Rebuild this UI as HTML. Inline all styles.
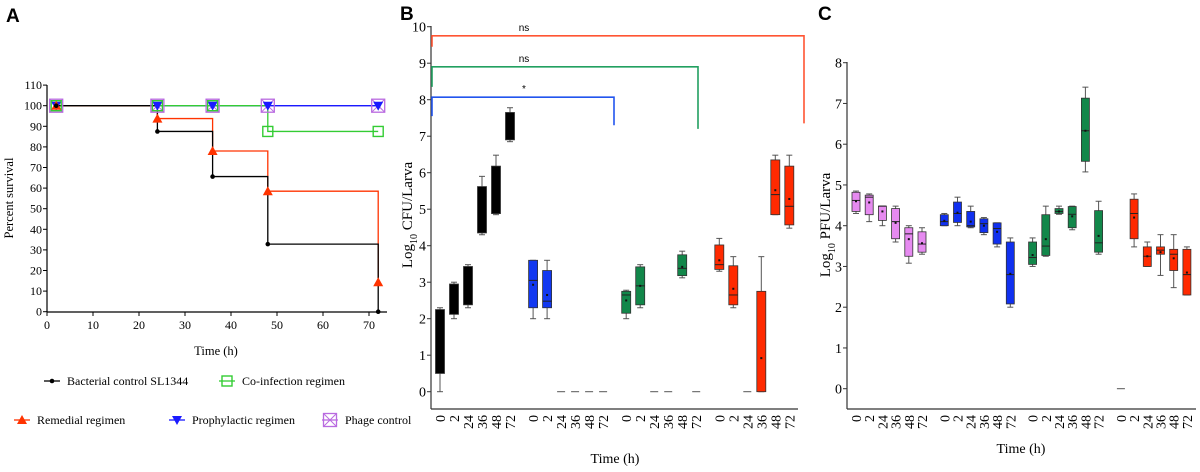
<!DOCTYPE html>
<html><head><meta charset="utf-8"><style>
body{margin:0;background:#fff;}
svg{display:block;font-family:"Liberation Serif",serif;}
</style></head><body>
<svg id="fig" width="1200" height="472" viewBox="0 0 1200 472" xmlns="http://www.w3.org/2000/svg">
<g font-family="Liberation Sans, sans-serif" font-weight="bold" font-size="19">
<text x="6" y="22">A</text>
<text x="400" y="20">B</text>
<text x="818" y="20">C</text>
</g>
<g id="pa"></g>
<g id="pb"></g>
<g id="pc"></g>
</svg>
<script>
const NS='http://www.w3.org/2000/svg';
function mk(p,t,a,txt){const e=document.createElementNS(NS,t);for(const k in a)e.setAttribute(k,a[k]);if(txt!==undefined)e.textContent=txt;p.appendChild(e);return e;}

// ===== Panel A data =====
const survTimes=[2,24,36,48,72];
const survBacterial=[100,87.5,65.6,32.8,0];
const survRemedial=[100,93.75,78,58.5,14.3];
const survCoinf=[100,100,100,87.5,87.5];
const survProph=[100,100,100,100,100];
const survPhage=[100,100,100,100,100];
const aXTicks=[0,10,20,30,40,50,60,70];
const aYTicks=[0,10,20,30,40,50,60,70,80,90,100,110];

// ===== Panel B data =====
const bTimes=['0','2','24','36','48','72'];
const bGroupColors=['#000000','#1238f0','#12874a','#ff2a00'];
// [whiskerLow, boxLow, median, boxHigh, whiskerHigh, mean] ; null = zero dash
const bBlack=[[0,0.5,null,2.25,2.3,null],[2.0,2.12,null,2.95,3.0,null],[2.3,2.38,null,3.43,3.48,null],[4.3,4.35,null,5.62,5.9,null],[4.85,4.88,null,6.18,6.48,null],[6.85,6.9,null,7.65,7.78,null]];
const bBlue=[[2.0,2.3,3.05,3.6,3.6,2.93],[2.0,2.3,2.48,3.32,3.6,2.65],null,null,null,null];
const bGreen=[[2.0,2.15,2.65,2.75,2.78,2.5],[2.3,2.38,2.9,3.42,3.48,2.9],null,null,[3.12,3.18,3.38,3.75,3.85,3.42],null];
const bRed=[[3.3,3.35,3.48,4.02,4.2,3.6],[2.3,2.38,2.65,3.45,3.7,2.82],null,[0,0,null,2.75,3.7,0.92],[4.85,4.85,5.4,6.35,6.48,5.52],[4.48,4.57,5.08,6.18,6.48,5.28]];
const bYTicks=[0,1,2,3,4,5,6,7,8,9,10];

// ===== Panel C data =====
const cGroupColors=['#e68af0','#1030f0','#12874a','#ff2a00'];
const cPurple=[[4.3,4.35,4.62,4.82,4.85,4.6],[4.1,4.27,4.7,4.75,4.78,4.57],[4.0,4.13,4.48,4.48,4.48,4.35],[3.6,3.68,4.1,4.42,4.48,4.07],[3.08,3.25,3.8,3.95,4.0,3.67],[3.3,3.35,3.55,3.85,3.95,3.57]];
const cBlue=[[4.0,4.0,4.1,4.27,4.3,4.12],[4.0,4.08,4.3,4.58,4.7,4.32],[3.95,3.97,4.0,4.35,4.48,4.1],[3.78,3.83,4.05,4.17,4.2,4.0],[3.48,3.55,3.93,4.07,4.07,3.85],[2.0,2.08,2.8,3.6,3.7,2.82]];
const cGreen=[[3.0,3.05,3.22,3.6,3.7,3.28],[3.25,3.27,3.5,4.27,4.48,3.67],[4.28,4.3,4.35,4.42,4.48,4.35],[3.9,3.95,4.28,4.47,4.48,4.23],[5.32,5.58,6.33,7.13,7.4,6.33],[3.3,3.35,3.58,4.37,4.6,3.75]];
const cRed=[null,[3.48,3.68,4.3,4.65,4.78,4.2],[3.0,3.0,3.25,3.48,3.6,3.25],[2.78,3.3,3.4,3.48,3.78,3.35],[2.48,2.9,3.3,3.42,3.78,3.2],[2.3,2.3,2.8,3.42,3.48,2.85]];
const cYTicks=[0,1,2,3,4,5,6,7,8];

// ===== Panel A drawing =====
(function(){
 const g=document.getElementById('pa');
 const X=v=>47+v*4.6, Y=v=>311.7-v*2.06;
 mk(g,'line',{x1:47,y1:85,x2:47,y2:312,stroke:'#000','stroke-width':1.2});
 mk(g,'line',{x1:47,y1:312,x2:387,y2:312,stroke:'#000','stroke-width':1.2});
 aYTicks.forEach(v=>{mk(g,'line',{x1:43,x2:47,y1:Y(v),y2:Y(v),stroke:'#000'});
  const t=mk(g,'text',{x:42,y:Y(v)+4,'text-anchor':'end','font-size':12},v);});
 aXTicks.forEach(v=>{mk(g,'line',{x1:X(v),x2:X(v),y1:312,y2:316,stroke:'#000'});
  const t=mk(g,'text',{x:X(v),y:329,'text-anchor':'middle','font-size':12},v);});
 const yl=mk(g,'text',{transform:'translate(13,198) rotate(-90)','text-anchor':'middle','font-size':12.5},'Percent survival');
 
 const xl=mk(g,'text',{x:216,y:355,'text-anchor':'middle','font-size':12.5},'Time (h)');
 
 function step(vals,col){let d='M'+X(survTimes[0])+','+Y(vals[0]);
  for(let i=1;i<survTimes.length;i++){d+=' H'+X(survTimes[i])+' V'+Y(vals[i]);}
  const p=mk(g,'path',{d:d,fill:'none',stroke:col,'stroke-width':1.3});}
 function marker(type,cx,cy,col){
  if(type==='dot')mk(g,'circle',{cx,cy,r:2.3,fill:col});
  if(type==='tri')mk(g,'path',{d:`M${cx},${cy-5}L${cx+5},${cy+4}L${cx-5},${cy+4}Z`,fill:col});
  if(type==='itri')mk(g,'path',{d:`M${cx},${cy+5}L${cx+5},${cy-4}L${cx-5},${cy-4}Z`,fill:col});
  if(type==='sq')mk(g,'rect',{x:cx-5,y:cy-5,width:10,height:10,fill:'none',stroke:col,'stroke-width':1.4});
  if(type==='xsq'){mk(g,'rect',{x:cx-6.5,y:cy-6.5,width:13,height:13,fill:'none',stroke:col,'stroke-width':1.3});
   mk(g,'path',{d:`M${cx-6.5},${cy-6.5}L${cx+6.5},${cy+6.5}M${cx+6.5},${cy-6.5}L${cx-6.5},${cy+6.5}`,stroke:col,'stroke-width':1});}
 }
 const series=[[survPhage,'#b96ae0','xsq'],[survProph,'#1a1aff','itri'],[survCoinf,'#33cc33','sq'],[survRemedial,'#ff3300','tri'],[survBacterial,'#000','dot']];
 series.forEach(s=>step(s[0],s[1]));
 series.forEach(s=>survTimes.forEach((t,i)=>marker(s[2],X(t),Y(s[0][i]),s[1])));
 const leg=[[52,381,'Bacterial control SL1344','#000','dot'],[227,381,'Co-infection regimen','#33cc33','sq'],[22,420,'Remedial regimen','#ff3300','tri'],[177,420,'Prophylactic regimen','#1a1aff','itri'],[330,420,'Phage control','#b96ae0','xsq']];
 leg.forEach(l=>{mk(g,'line',{x1:l[0]-8,x2:l[0]+8,y1:l[1],y2:l[1],stroke:l[3],'stroke-width':1.3});marker(l[4],l[0],l[1],l[3]);
  const t=mk(g,'text',{x:l[0]+15,y:l[1]+4,'font-size':12},l[2]);});
})();

// ===== box chart helper =====
function boxChart(g,opt){
 const {x0,Y,yTop,yBot,xEnd,groups,colors,step,gstep,bw,yTicks,ylab,ylx,yly}=opt;
 mk(g,'line',{x1:x0,y1:yTop,x2:x0,y2:yBot,stroke:'#333','stroke-width':1.2});
 mk(g,'line',{x1:x0,y1:yBot,x2:xEnd,y2:yBot,stroke:'#333','stroke-width':1.2});
 yTicks.forEach(v=>{mk(g,'line',{x1:x0-4,x2:x0,y1:Y(v),y2:Y(v),stroke:'#333'});
  const t=mk(g,'text',{x:x0-5,y:Y(v)+5,'text-anchor':'end','font-size':14},v);});
 const yl=mk(g,'text',{transform:`translate(${ylx},${yly}) rotate(-90)`,'text-anchor':'middle','font-size':15},'');
 
 mk(yl,'tspan',{},'Log');mk(yl,'tspan',{dy:5,'font-size':10},'10');mk(yl,'tspan',{dy:-5},' '+ylab);
 groups.forEach((grp,gi)=>grp.forEach((b,i)=>{
  const cx=opt.first+gi*gstep+i*step, col=colors[gi];
  const t=mk(g,'text',{transform:`translate(${cx+5},${yBot+6}) rotate(-90)`,'text-anchor':'end','font-size':14},bTimes[i]);
  
  if(!b){const z=mk(g,'line',{x1:cx-4,x2:cx+4,y1:Y(0),y2:Y(0),stroke:'#555','stroke-width':1});return;}
  const [wl,bl,md,bh,wh,mn]=b;
  mk(g,'line',{x1:cx,x2:cx,y1:Y(wl),y2:Y(wh),stroke:'#555','stroke-width':1});
  mk(g,'line',{x1:cx-3,x2:cx+3,y1:Y(wl),y2:Y(wl),stroke:'#555'});
  mk(g,'line',{x1:cx-3,x2:cx+3,y1:Y(wh),y2:Y(wh),stroke:'#555'});
  const r=mk(g,'rect',{x:cx-bw/2,y:Y(bh),width:bw,height:Math.max(1,Y(bl)-Y(bh)),fill:col,stroke:'#333','stroke-width':0.8});
  
  if(md!==null)mk(g,'line',{x1:cx-bw/2,x2:cx+bw/2,y1:Y(md),y2:Y(md),stroke:'#222','stroke-width':1});
  if(mn!==null)mk(g,'rect',{x:cx-1,y:Y(mn)-1,width:2,height:2,fill:'#111'});
 }));
 const xl=mk(g,'text',{x:opt.xlabX,y:opt.xlabY,'text-anchor':'middle','font-size':14},'Time (h)');
 
}

// ===== Panel B =====
(function(){
 const g=document.getElementById('pb');
 const Y=v=>391.7-v*36.5;
 boxChart(g,{x0:431,Y,yTop:26,yBot:409,xEnd:798,groups:[bBlack,bBlue,bGreen,bRed],colors:bGroupColors,first:440,step:14,gstep:93.1,bw:9,yTicks:bYTicks,ylab:'CFU/Larva',ylx:412,yly:215,xlabX:615,xlabY:463});
 const br=[[Y(9.75),804,Y(9.45),Y(7.35),'#ff5533','ns'],[Y(8.9),698,Y(8.35),Y(7.2),'#22a060','ns'],[Y(8.07),614,Y(7.55),Y(7.3),'#2255ee','*']];
 br.forEach(b=>{const p=mk(g,'path',{d:`M432,${b[2]}V${b[0]}H${b[1]}V${b[3]}`,fill:'none',stroke:b[4],'stroke-width':1.6});
  
  const t=mk(g,'text',{x:524,y:b[0]-5,'text-anchor':'middle','font-size':10,'font-family':'Liberation Sans, sans-serif'},b[5]);
  });
})();

// ===== Panel C =====
(function(){
 const g=document.getElementById('pc');
 const Y=v=>388.7-v*40.75;
 boxChart(g,{x0:847,Y,yTop:62,yBot:409,xEnd:1196,groups:[cPurple,cBlue,cGreen,cRed],colors:cGroupColors,first:856,step:13.2,gstep:88.3,bw:8,yTicks:cYTicks,ylab:'PFU/Larva',ylx:830,yly:225,xlabX:1021,xlabY:453});
})();
</script>
</body></html>
